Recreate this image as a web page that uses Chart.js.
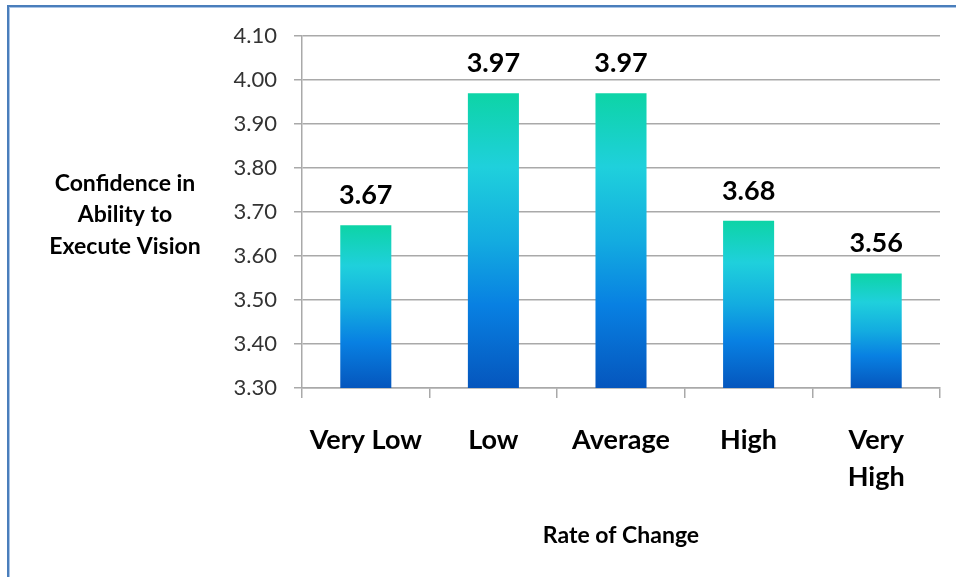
<!DOCTYPE html>
<html>
<head>
<meta charset="utf-8">
<script src="https://cdn.jsdelivr.net/npm/chart.js@4/dist/chart.umd.min.js"></script>
<style>
  html, body { margin: 0; padding: 0; background: #ffffff; }
  #wrap { width: 956px; height: 577px; }
  canvas { display: block; }
</style>
</head>
<body>
<div id="wrap"><canvas id="chart" width="956" height="577"></canvas></div>
<script>
// Rate of change categories and mean confidence scores
const categories = ['Very Low', 'Low', 'Average', 'High', ['Very', 'High']];
const confidence = [3.67, 3.97, 3.97, 3.68, 3.56];
const yTicks = [3.30, 3.40, 3.50, 3.60, 3.70, 3.80, 3.90, 4.00, 4.10];
const yTitleLines = ['Confidence in', 'Ability to', 'Execute Vision'];
const xTitle = 'Rate of Change';

const FONT = 'Lato, "Open Sans", "Liberation Sans", sans-serif';
const GRID = '#a9a9a9';

// Vertical teal-to-blue fill spanning each bar from its top to the baseline
function barGradient(context) {
  const chart = context.chart;
  const y = chart.scales.y;
  if (!y || context.dataIndex === undefined) return '#1aa8e0';
  const v = context.dataset.data[context.dataIndex];
  const top = y.getPixelForValue(v);
  const bottom = y.getPixelForValue(y.min);
  if (!isFinite(top) || !isFinite(bottom) || top === bottom) return '#1aa8e0';
  const g = chart.ctx.createLinearGradient(0, top, 0, bottom);
  g.addColorStop(0.00, '#0dd4a6');
  g.addColorStop(0.25, '#1fd0dc');
  g.addColorStop(0.50, '#13ace0');
  g.addColorStop(0.72, '#0880e2');
  g.addColorStop(1.00, '#0556bd');
  return g;
}

// White page with the blue frame along the top and left edges
const framePlugin = {
  id: 'frame',
  beforeDraw(chart) {
    const { ctx, width, height } = chart;
    ctx.save();
    ctx.fillStyle = '#ffffff';
    ctx.fillRect(0, 0, width, height);
    ctx.fillStyle = '#4a7ebb';
    ctx.fillRect(7, 5, width - 7, 2);
    ctx.fillRect(7, 5, 2, height - 5);
    ctx.fillStyle = '#a9c4e6';
    ctx.fillRect(9, 7, width - 9, 1);
    ctx.fillRect(9, 7, 1, height - 7);
    ctx.restore();
  }
};

// Horizontal, multi-line title to the left of the value axis
const yTitlePlugin = {
  id: 'yTitle',
  afterDraw(chart) {
    const { ctx, chartArea } = chart;
    const mid = (chartArea.top + chartArea.bottom) / 2 + 3;
    const gap = 31.5;
    ctx.save();
    ctx.font = 'bold 23px ' + FONT;
    ctx.fillStyle = '#000000';
    ctx.textAlign = 'center';
    ctx.textBaseline = 'middle';
    yTitleLines.forEach((line, i) => {
      ctx.fillText(line, 125, mid + (i - (yTitleLines.length - 1) / 2) * gap);
    });
    ctx.restore();
  }
};

// Value printed above each bar
const valueLabelPlugin = {
  id: 'valueLabels',
  afterDatasetsDraw(chart) {
    const { ctx } = chart;
    const meta = chart.getDatasetMeta(0);
    ctx.save();
    ctx.font = 'bold 27px ' + FONT;
    ctx.fillStyle = '#000000';
    ctx.textAlign = 'center';
    ctx.textBaseline = 'middle';
    meta.data.forEach((bar, i) => {
      ctx.fillText(confidence[i].toFixed(2), bar.x, bar.y - 30);
    });
    ctx.restore();
  }
};

new Chart(document.getElementById('chart'), {
  type: 'bar',
  data: {
    labels: categories,
    datasets: [{
      data: confidence,
      backgroundColor: barGradient,
      borderWidth: 0,
      categoryPercentage: 1.0,
      barPercentage: 0.4
    }]
  },
  options: {
    responsive: false,
    animation: false,
    devicePixelRatio: 1,
    layout: { padding: { top: 36, right: 16, left: 0, bottom: 0 } },
    plugins: {
      legend: { display: false },
      title: { display: false },
      tooltip: { enabled: false }
    },
    scales: {
      y: {
        min: 3.3,
        max: 4.1,
        afterBuildTicks(scale) {
          scale.ticks = yTicks.map(v => ({ value: v }));
        },
        afterFit(scale) { scale.width = 302; },
        ticks: {
          color: '#333333',
          font: { family: FONT, size: 22 },
          padding: 17,
          callback: v => Number(v).toFixed(2)
        },
        grid: {
          color: GRID,
          lineWidth: 1.5,
          drawTicks: true,
          tickLength: 8
        },
        border: { display: true, color: GRID, width: 1.5 }
      },
      x: {
        afterFit(scale) { scale.height = 577 - 388; },
        ticks: {
          color: '#000000',
          font: { family: FONT, size: 27, weight: 'bold', lineHeight: 1.4 },
          padding: 23,
          maxRotation: 0,
          autoSkip: false
        },
        grid: {
          display: true,
          offset: true,
          drawOnChartArea: false,
          drawTicks: true,
          tickLength: 10,
          color: GRID,
          lineWidth: 1.5
        },
        border: { display: true, color: GRID, width: 1.5 },
        title: {
          display: true,
          text: xTitle,
          color: '#000000',
          font: { family: FONT, size: 23, weight: 'bold' },
          padding: { top: 0, bottom: 28 }
        }
      }
    }
  },
  plugins: [framePlugin, yTitlePlugin, valueLabelPlugin]
});
</script>
</body>
</html>
